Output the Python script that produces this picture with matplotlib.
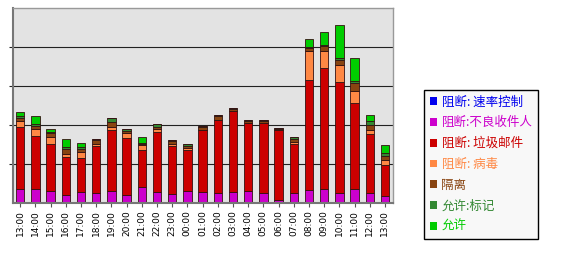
import numpy as np
import matplotlib
matplotlib.use('Agg')
from matplotlib import pyplot as plt
from matplotlib.patches import Patch

plt.rcParams['font.family'] = ['Noto Sans CJK SC', 'DejaVu Sans']

hours = ['13:00', '14:00', '15:00', '16:00', '17:00', '18:00', '19:00', '20:00',
         '21:00', '22:00', '23:00', '00:00', '01:00', '02:00', '03:00', '04:00',
         '05:00', '06:00', '07:00', '08:00', '09:00', '10:00', '11:00', '12:00', '13:00']

rate_control = [0] * 25
bad_rcpt = [3.6, 3.6, 3.0, 2.05, 2.7, 2.6, 3.2, 2.05, 4.0, 2.7, 2.3, 3.0, 2.7,
            2.6, 2.7, 3.0, 2.6, 0.7, 2.6, 3.4, 3.6, 2.6, 3.6, 2.6, 1.9]
spam = [15.9, 13.7, 12.2, 9.7, 8.9, 12.1, 15.4, 14.6, 9.7, 15.6, 12.2, 10.5, 15.9,
        18.6, 21.0, 17.5, 17.9, 17.9, 12.6, 28.2, 31.0, 28.5, 22.1, 15.0, 7.8]
virus = [1.45, 1.7, 1.7, 0.85, 1.6, 0.5, 0.85, 1.3, 1.2, 0.7, 0.7, 0.5, 0,
         0, 0, 0, 0, 0, 0.5, 7.5, 4.3, 4.4, 2.9, 1.1, 1.3]
quarantine = [0.8, 0.85, 1.0, 1.3, 0.7, 0.85, 1.3, 0.4, 0.35, 0.5, 0.6, 0.7, 0.85,
              1.0, 0.5, 0.5, 0.5, 0.5, 0.7, 0.6, 1.3, 1.1, 2.1, 1.2, 1.0]
tagged = [0.5, 0.5, 0.4, 0.5, 0.35, 0.3, 1.1, 0.6, 0.2, 0.85, 0.4, 0.35, 0.35,
          0.35, 0.25, 0.35, 0.35, 0.2, 0.6, 0.25, 0.4, 0.6, 0.7, 1.1, 0.7]
allowed = [1.1, 2.0, 0.8, 1.9, 1.1, 0, 0, 0, 1.4, 0, 0, 0, 0,
           0, 0, 0, 0, 0, 0, 2.1, 3.2, 8.5, 5.8, 1.5, 2.2]

labels = ['阻断: 速率控制', '阻断:不良收件人', '阻断: 垃圾邮件', '阻断: 病毒',
          '隔离', '允许:标记', '允许']
colors = ['#0000ee', '#cc00cc', '#cc0000', '#ff8844', '#884411', '#338833', '#00cc00']
series = [rate_control, bad_rcpt, spam, virus, quarantine, tagged, allowed]

fig = plt.figure(figsize=(5.63, 2.58), dpi=100)
ax = fig.add_axes([13 / 563, 55 / 258, 380 / 563, 195 / 258])
ax.set_facecolor('#e3e3e3')

x = np.arange(len(hours))
bottom = np.zeros(len(hours))
for vals, c in zip(series, colors):
    vals = np.array(vals, dtype=float)
    ax.bar(x, vals, width=0.55, bottom=bottom, color=c, edgecolor='#331111',
           linewidth=0.6)
    bottom += vals

ax.set_xlim(-0.47, 24.53)
ax.set_ylim(0, 50)
ax.set_yticks([10, 20, 30, 40])
ax.set_yticklabels([])
ax.yaxis.grid(True, color='#222222', linewidth=0.8)
ax.set_axisbelow(True)
ax.tick_params(axis='y', length=3, width=0.8, color='#222222')
ax.set_xticks(x)
ax.set_xticklabels(hours, rotation=90, fontsize=6.5, family='DejaVu Sans')
ax.tick_params(axis='x', length=3, width=0.8, color='#555555', pad=2)
for s in ['left', 'bottom']:
    ax.spines[s].set_color('#777777')
    ax.spines[s].set_linewidth(1.5)
for s in ['top', 'right']:
    ax.spines[s].set_color('#999999')
    ax.spines[s].set_linewidth(1.0)

handles = [Patch(facecolor=c, edgecolor='none') for c in colors]
leg = fig.legend(handles, labels, loc='upper left',
                 bbox_to_anchor=(424 / 563, 1 - 90 / 258), borderaxespad=0,
                 fontsize=9, handlelength=0.6, handleheight=0.6,
                 handletextpad=0.35, labelspacing=0.62, borderpad=0.45,
                 fancybox=False, edgecolor='black', facecolor='#f8f8f8',
                 framealpha=1)
leg.get_frame().set_linewidth(1.0)
for t, c in zip(leg.get_texts(), colors):
    t.set_color(c)

fig.savefig('out.png', dpi=100)
